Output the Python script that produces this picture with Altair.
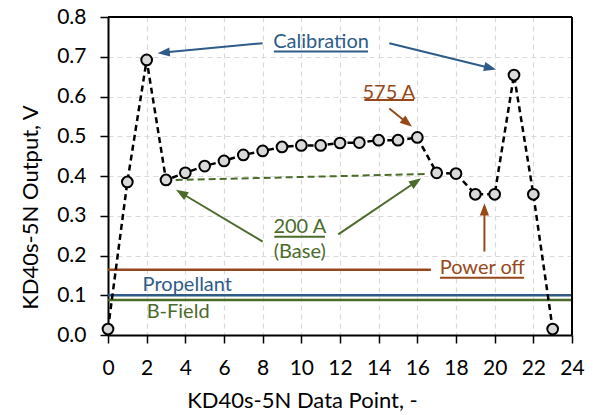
import math
import altair as alt
import pandas as pd

FONT = "Lato"
BLUE = "#2E5B88"
BROWN = "#97481A"
GREEN = "#4B6B2B"

W, H = 464, 318
X_MAX, Y_MAX = 24, 0.8

# Sensor output per data point
point_idx = list(range(24))
output_v = [0.015, 0.385, 0.692, 0.390, 0.408, 0.425, 0.438, 0.453, 0.463, 0.473,
            0.477, 0.477, 0.483, 0.484, 0.490, 0.490, 0.497, 0.408, 0.406, 0.354,
            0.354, 0.654, 0.354, 0.015]

# Axis ticks
x_ticks = list(range(0, 25, 2))
y_ticks = [0.0, 0.1, 0.2, 0.3, 0.4, 0.5, 0.6, 0.7, 0.8]

# Horizontal reference levels
level_names = ["Power off", "Propellant", "B-Field"]
level_values = [0.164, 0.100, 0.088]
level_x_end = [16.7, 24, 24]
level_colors = [BROWN, BLUE, GREEN]

# 200 A base trend (dashed green)
base_x = [3.5, 16.5]
base_y = [0.390, 0.405]

# Annotation arrows: start -> tip
arrow_x1 = [8.0, 14.55, 14.55, 8.0, 11.91, 19.47]
arrow_y1 = [0.734, 0.734, 0.570, 0.235, 0.253, 0.210]
arrow_x2 = [2.57, 20.07, 15.72, 3.52, 16.19, 19.47]
arrow_y2 = [0.709, 0.668, 0.524, 0.365, 0.394, 0.331]
arrow_colors = [BLUE, BLUE, BROWN, GREEN, GREEN, BROWN]

# Annotation labels
label_text = ["Calibration", "575 A", "200 A", "(Base)", "Power off", "Propellant", "B-Field"]
label_x = [11.02, 14.53, 9.92, 9.92, 19.36, 1.79, 2.0]
label_y = [0.737, 0.609, 0.272, 0.210, 0.168, 0.126, 0.058]
label_align = ["center", "center", "center", "center", "center", "left", "left"]
label_colors = [BLUE, BROWN, GREEN, GREEN, BROWN, BLUE, GREEN]

# Underlines beneath labels
ul_x1 = [8.58, 13.26, 8.60, 17.17]
ul_x2 = [13.45, 15.83, 11.22, 21.52]
ul_y = [0.713, 0.591, 0.247, 0.144]
ul_colors = [BLUE, BROWN, GREEN, BROWN]

xs = alt.Scale(domain=[0, X_MAX], nice=False)
ys = alt.Scale(domain=[0, Y_MAX], nice=False)

series = pd.DataFrame({"pt": point_idx, "v": output_v})
levels = pd.DataFrame({"name": level_names, "v": level_values, "x0": 0, "x1": level_x_end,
                       "c": level_colors})
base = pd.DataFrame({"x": base_x, "y": base_y})

kx, ky = W / X_MAX, H / Y_MAX
rows = []
for x1, y1, x2, y2, c in zip(arrow_x1, arrow_y1, arrow_x2, arrow_y2, arrow_colors):
    dxp, dyp = (x2 - x1) * kx, (y2 - y1) * ky
    length = math.hypot(dxp, dyp)
    ang = math.degrees(math.atan2(dxp, dyp)) % 360
    back = 6.0  # head centre sits half a head-length behind the tip
    hx = x2 - dxp / length * back / kx
    hy = y2 - dyp / length * back / ky
    rows.append({"x1": x1, "y1": y1, "x2": hx, "y2": hy, "hx": hx, "hy": hy,
                 "ang": ang, "c": c})
arrows = pd.DataFrame(rows)
labels = pd.DataFrame({"t": label_text, "x": label_x, "y": label_y, "a": label_align,
                       "c": label_colors})
unders = pd.DataFrame({"x1": ul_x1, "x2": ul_x2, "y": ul_y, "c": ul_colors})

x_axis = alt.Axis(values=x_ticks, title="KD40s-5N Data Point, -", grid=True,
                  labelOverlap=False, labelFlush=False, titleX=194)
y_axis = alt.Axis(values=y_ticks, format=".1f", title="KD40s-5N Output, V", grid=True,
                  labelOverlap=False, labelFlush=False, titleY=190)


# every layer carries the same axis definition so the merged axes agree
def X(field):
    return alt.X(field, type="quantitative", scale=xs, axis=x_axis)


def Y(field):
    return alt.Y(field, type="quantitative", scale=ys, axis=y_axis)


level_rules = alt.Chart(levels).mark_rule(strokeWidth=2.5).encode(
    x=X("x0"), x2="x1:Q", y=Y("v"),
    color=alt.Color("c:N", scale=None),
)

base_line = alt.Chart(base).mark_line(color=GREEN, strokeWidth=2, strokeDash=[7, 4]).encode(
    x=X("x"), y=Y("y")
)

main_line = alt.Chart(series).mark_line(color="black", strokeWidth=2.5,
                                        strokeDash=[6, 4]).encode(
    x=X("pt"), y=Y("v")
)

main_pts = alt.Chart(series).mark_point(filled=True, fill="#D9D9D9", stroke="black",
                                        strokeWidth=2, size=115, opacity=1,
                                        shape="circle").encode(
    x=X("pt"), y=Y("v")
)

arrow_shafts = alt.Chart(arrows).mark_rule(strokeWidth=2).encode(
    x=X("x1"), y=Y("y1"), x2="x2:Q", y2="y2:Q",
    color=alt.Color("c:N", scale=None),
)

arrow_heads = alt.Chart(arrows).mark_point(
    shape="M0,-1L-0.75,1L0.75,1Z", filled=True, size=150, opacity=1, strokeWidth=0
).encode(
    x=X("hx"), y=Y("hy"),
    angle=alt.Angle("ang:Q", scale=None),
    fill=alt.Fill("c:N", scale=None),
)

underlines = alt.Chart(unders).mark_rule(strokeWidth=2).encode(
    x=X("x1"), x2="x2:Q", y=Y("y"),
    color=alt.Color("c:N", scale=None),
)

# solid top and right edges of the plot frame, drawn above the grid
edge = pd.DataFrame({"k": [0]})
top_edge = alt.Chart(edge).mark_rule(color="black", strokeWidth=2).encode(
    x=alt.value(0), x2=alt.value(W), y=alt.value(0)
)
right_edge = alt.Chart(edge).mark_rule(color="black", strokeWidth=2).encode(
    x=alt.value(W), y=alt.value(0), y2=alt.value(H)
)


def label_layer(align):
    return alt.Chart(labels).transform_filter(alt.datum.a == align).mark_text(
        font=FONT, fontSize=20, align=align, baseline="middle"
    ).encode(
        x=X("x"), y=Y("y"), text="t:N",
        color=alt.Color("c:N", scale=None),
    )


chart = alt.layer(
    level_rules, base_line, main_line, main_pts, arrow_shafts, arrow_heads,
    underlines, label_layer("center"), label_layer("left"), top_edge, right_edge,
).properties(
    width=W, height=H,
    autosize=alt.AutoSizeParams(type="none"),
    padding={"left": 108, "top": 17, "right": 22, "bottom": 80},
    background="white",
).configure_view(
    stroke=None,
).configure_axis(
    labelFont=FONT, titleFont=FONT, labelFontSize=21, titleFontSize=22,
    labelColor="black", titleColor="black", titleFontWeight="normal",
    labelOverlap=False, labelFlush=False,
    domainColor="black", domainWidth=2, tickColor="black", tickWidth=1.5, tickSize=8,
    gridColor="#D9D9D9", gridDash=[5, 4], gridWidth=1.2,
).configure_axisX(
    labelPadding=14, titlePadding=12,
).configure_axisY(
    labelPadding=14, titlePadding=14,
)

chart.save("out.html", embed_options={"renderer": "svg", "actions": False})
